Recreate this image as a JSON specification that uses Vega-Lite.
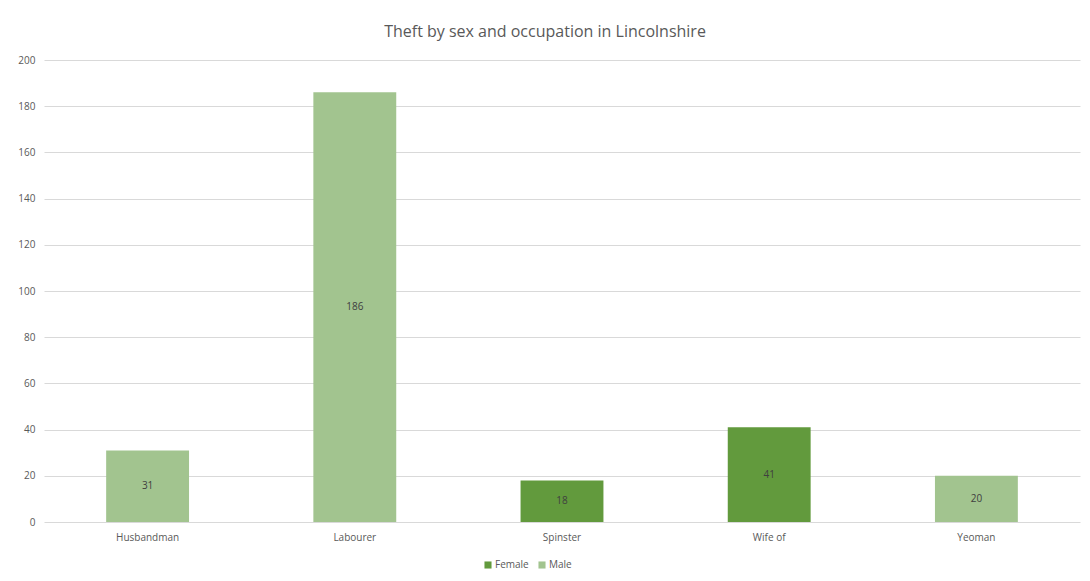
{
  "$schema": "https://vega.github.io/schema/vega-lite/v6.json",
  "width": 1036,
  "height": 462,
  "autosize": {"type": "none"},
  "padding": {"left": 44, "top": 60, "right": 10, "bottom": 59},
  "background": "white",
  "title": {
    "text": "Theft by sex and occupation in Lincolnshire",
    "anchor": "middle",
    "frame": "group",
    "dx": -17,
    "offset": 15,
    "font": "Open Sans, sans-serif",
    "fontSize": 16,
    "fontWeight": "normal",
    "color": "#595959"
  },
  "config": {
    "view": {"stroke": null},
    "font": "Open Sans, sans-serif"
  },
  "data": {
    "values": [
      {"occupation": "Husbandman", "sex": "Male", "count": 31},
      {"occupation": "Labourer", "sex": "Male", "count": 186},
      {"occupation": "Spinster", "sex": "Female", "count": 18},
      {"occupation": "Wife of", "sex": "Female", "count": 41},
      {"occupation": "Yeoman", "sex": "Male", "count": 20}
    ]
  },
  "encoding": {
    "x": {
      "field": "occupation",
      "type": "nominal",
      "sort": null,
      "scale": {"paddingInner": 0.6, "paddingOuter": 0.3},
      "axis": {
        "title": null,
        "labelAngle": 0,
        "labelColor": "#595959",
        "labelFontSize": 10,
        "labelPadding": 10,
        "ticks": false,
        "domain": false
      }
    }
  },
  "layer": [
    {
      "mark": {"type": "bar"},
      "encoding": {
        "y": {
          "field": "count",
          "type": "quantitative",
          "scale": {"domain": [0, 200], "nice": false},
          "axis": {
            "title": null,
            "values": [0, 20, 40, 60, 80, 100, 120, 140, 160, 180, 200],
            "labelColor": "#595959",
            "labelFontSize": 10,
            "labelPadding": 9,
            "ticks": false,
            "domain": false,
            "gridColor": "#d9d9d9",
            "gridWidth": 1
          }
        },
        "color": {
          "field": "sex",
          "type": "nominal",
          "scale": {"domain": ["Female", "Male"], "range": ["#629A3D", "#A2C48F"]},
          "legend": {
            "title": null,
            "orient": "none",
            "legendX": 439,
            "legendY": 500,
            "direction": "horizontal",
            "symbolType": "square",
            "symbolSize": 50,
            "symbolStrokeWidth": 0,
            "labelColor": "#595959",
            "labelFontSize": 10,
            "columnPadding": 8,
            "labelOffset": 2
          }
        }
      }
    },
    {
      "mark": {"type": "text", "fontSize": 10, "color": "#404040", "baseline": "middle"},
      "encoding": {
        "y": {
          "field": "count",
          "type": "quantitative",
          "scale": {"domain": [0, 400], "nice": false},
          "axis": null
        },
        "text": {"field": "count", "type": "quantitative"}
      }
    }
  ],
  "resolve": {"scale": {"y": "independent"}}
}
